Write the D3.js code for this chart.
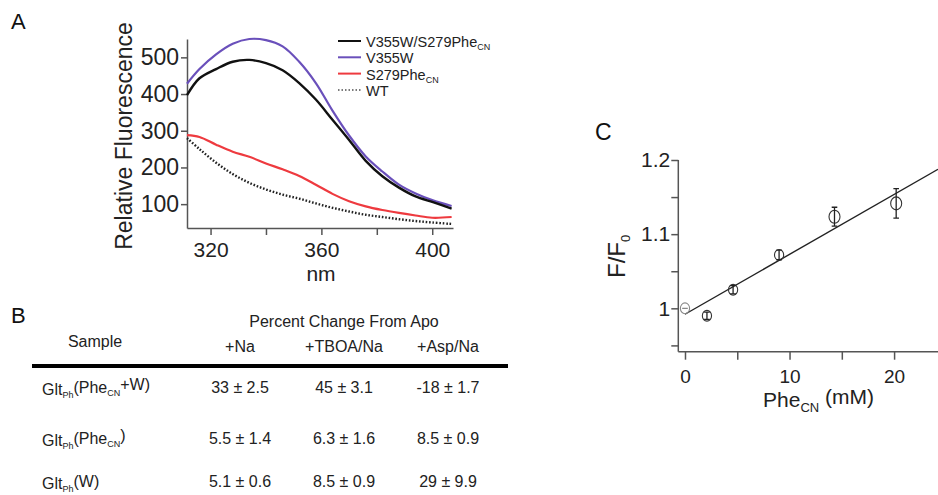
<!DOCTYPE html>
<html>
<head>
<meta charset="utf-8">
<script src="https://cdn.jsdelivr.net/npm/d3@7"></script>
<style>
  body { margin: 0; background: #fff; }
  svg { font-family: "Liberation Sans", Arial, Helvetica, sans-serif; display: block; }
</style>
</head>
<body>
<svg id="fig" width="938" height="495"></svg>
<script>
// ---- panel A : emission spectra ----
var wavelength = [311.5, 316, 322, 328, 334, 340, 346, 352, 358, 364, 370, 376, 382, 388, 394, 400, 407];
var dblMutant  = [397, 443, 468, 488, 493, 484, 465, 430, 385, 330, 275, 218, 176, 145, 121, 106, 88];
var v355w      = [428, 468, 508, 537, 550, 547, 530, 488, 430, 355, 287, 230, 189, 153, 129, 111, 95];
var s279phe    = [288, 283, 262, 243, 229, 211, 195, 177, 153, 128, 108, 94, 84, 76, 69, 63, 65];
var wt         = [280, 250, 213, 182, 158, 140, 126, 115, 102, 90, 80, 71, 65, 59, 54, 50, 46];
var specTicksX = [320, 340, 360, 380, 400];
var specLabelsX = [320, 360, 400];
var specTicksY = [100, 200, 300, 400, 500];

// ---- panel B : percent change table ----
var sampleNames = ["Phe_CN+W", "Phe_CN", "W"];   // inside Glt_Ph( ... )
var conditions = ["+Na", "+TBOA/Na", "+Asp/Na"];
var naMean = [33, 5.5, 5.1],   naSd = [2.5, 1.4, 0.6];
var tboaMean = [45, 6.3, 8.5], tboaSd = [3.1, 1.6, 0.9];
var aspMean = [-18, 8.5, 29],  aspSd = [1.7, 0.9, 9.9];

// ---- panel C : titration ----
var pheConc = [0, 2.1, 4.6, 9.0, 14.3, 20.2];
var fRatio  = [1.0, 0.990, 1.025, 1.072, 1.1235, 1.1415];
var fErr    = [0.0, 0.005, 0.0055, 0.0065, 0.0128, 0.020];
var fitX = [0, 24.2];
var fitY = [0.992, 1.1875];
var titTicksX = [0, 5, 10, 15, 20];
var titTicksY = [0.95, 1.0, 1.05, 1.1, 1.15, 1.2];

var svg = d3.select("#fig");
svg.append("rect").attr("width", 938).attr("height", 495).attr("fill", "#fff");

var axisColor = "#555";

// write label text with "_XX" subscripts as tspans
function subText(sel, str, subSize) {
  var parts = str.split(/(_[A-Za-z0-9]+)/);
  var lowered = false;
  parts.forEach(function(p) {
    if (p === "") return;
    if (p[0] === "_") {
      sel.append("tspan").attr("font-size", subSize).attr("dy", lowered ? 0 : "0.35em").text(p.slice(1));
      lowered = true;
    } else {
      var t = sel.append("tspan").text(p);
      if (lowered) { t.attr("dy", "-0.35em"); lowered = false; }
    }
  });
}

function styleAxis(g, fontSize) {
  g.select(".domain").attr("stroke", axisColor).attr("stroke-width", 1.5);
  g.selectAll(".tick line").attr("stroke", axisColor).attr("stroke-width", 1.5);
  g.selectAll(".tick text").attr("fill", "#222").attr("font-size", fontSize)
    .attr("font-family", "Liberation Sans, Arial, sans-serif");
}

// ================= panel A =================
var xA = d3.scaleLinear().domain([311.5, 407.5]).range([187, 453]);
var yA = d3.scaleLinear().domain([35, 550]).range([228, 39]);

var gxA = svg.append("g").attr("transform", "translate(0,228)")
  .call(d3.axisBottom(xA).tickValues(specTicksX).tickSize(7).tickSizeOuter(0).tickPadding(7)
    .tickFormat(function(d) { return specLabelsX.indexOf(d) >= 0 ? d : ""; }));
styleAxis(gxA, 21);

var gyA = svg.append("g").attr("transform", "translate(187,0)")
  .call(d3.axisLeft(yA).tickValues(specTicksY).tickSize(6).tickSizeOuter(0).tickPadding(2));
styleAxis(gyA, 23);

var specSeries = [
  { name: "V355W/S279Phe_CN", values: dblMutant, color: "#111", dash: null, width: 2.4 },
  { name: "V355W", values: v355w, color: "#6a50bb", dash: null, width: 2.2 },
  { name: "S279Phe_CN", values: s279phe, color: "#ee3a3f", dash: null, width: 2.2 },
  { name: "WT", values: wt, color: "#222", dash: "1.6,1.8", width: 2.4 }
];

var lineA = d3.line()
  .x(function(d) { return xA(d[0]); })
  .y(function(d) { return yA(d[1]); })
  .curve(d3.curveCatmullRom);

svg.append("g").selectAll("path")
  .data(specSeries.slice().reverse())
  .enter().append("path")
  .attr("d", function(s) { return lineA(wavelength.map(function(w, i) { return [w, s.values[i]]; })); })
  .attr("fill", "none")
  .attr("stroke", function(s) { return s.color; })
  .attr("stroke-width", function(s) { return s.width; })
  .attr("stroke-dasharray", function(s) { return s.dash; });

// legend
var leg = svg.append("g").selectAll("g")
  .data(specSeries).enter().append("g")
  .attr("transform", function(d, i) { return "translate(338," + (41 + i * 16.3) + ")"; });
leg.append("line").attr("x1", 0).attr("x2", 23)
  .attr("stroke", function(d) { return d.color; })
  .attr("stroke-width", 2)
  .attr("stroke-dasharray", function(d) { return d.dash ? "1.5,2" : null; })
  .attr("opacity", function(d) { return d.dash ? 0.6 : 1; });
leg.append("text").attr("x", 28).attr("y", 6).attr("font-size", 14.5).attr("fill", "#222")
  .each(function(d) { subText(d3.select(this), d.name, 9); });

svg.append("text").attr("transform", "translate(132,136) rotate(-90)")
  .attr("text-anchor", "middle").attr("font-size", 23).attr("fill", "#222")
  .text("Relative Fluorescence");
svg.append("text").attr("x", 321).attr("y", 281).attr("text-anchor", "middle")
  .attr("font-size", 21).attr("fill", "#222").text("nm");
svg.append("text").attr("x", 11).attr("y", 29).attr("font-size", 22).attr("fill", "#111").text("A");

// ================= panel B =================
svg.append("text").attr("x", 11).attr("y", 323).attr("font-size", 22).attr("fill", "#111").text("B");

var colX = d3.scalePoint().domain(conditions).range([240, 448]);
var rowY = d3.scaleOrdinal().domain(sampleNames).range([393, 444, 487]);

svg.append("text").attr("x", 344).attr("y", 327).attr("text-anchor", "middle")
  .attr("font-size", 16).attr("fill", "#222").text("Percent Change From Apo");
svg.append("text").attr("x", 95).attr("y", 347).attr("text-anchor", "middle")
  .attr("font-size", 16).attr("fill", "#222").text("Sample");
svg.append("g").selectAll("text").data(conditions).enter().append("text")
  .attr("x", function(d) { return colX(d); }).attr("y", 352)
  .attr("text-anchor", "middle").attr("font-size", 16).attr("fill", "#222")
  .text(function(d) { return d; });
svg.append("line").attr("x1", 32).attr("x2", 508).attr("y1", 366).attr("y2", 366)
  .attr("stroke", "#000").attr("stroke-width", 4);

svg.append("g").selectAll("text").data(sampleNames).enter().append("text")
  .attr("x", 42).attr("y", function(d) { return rowY(d) + 2; })
  .attr("font-size", 16).attr("fill", "#222")
  .each(function(d) { subText(d3.select(this), "Glt_Ph(" + d + ")", 9); });

var cellData = [];
sampleNames.forEach(function(s, i) {
  cellData.push({ row: s, col: conditions[0], m: naMean[i], sd: naSd[i] });
  cellData.push({ row: s, col: conditions[1], m: tboaMean[i], sd: tboaSd[i] });
  cellData.push({ row: s, col: conditions[2], m: aspMean[i], sd: aspSd[i] });
});
svg.append("g").selectAll("text").data(cellData).enter().append("text")
  .attr("x", function(d) { return colX(d.col); })
  .attr("y", function(d) { return rowY(d.row); })
  .attr("text-anchor", "middle").attr("font-size", 16).attr("fill", "#222")
  .text(function(d) { return d.m + " \u00b1 " + d.sd.toFixed(1); });

// ================= panel C =================
var xC = d3.scaleLinear().domain([-0.64, 24.2]).range([678.3, 938]);
var yC = d3.scaleLinear().domain([0.9415, 1.2]).range([351.7, 160]);

var gxC = svg.append("g").attr("transform", "translate(0,351.7)")
  .call(d3.axisBottom(xC).tickValues(titTicksX).tickSize(8).tickSizeOuter(0).tickPadding(10)
    .tickFormat(function(d) { return d % 10 === 0 ? d : ""; }));
styleAxis(gxC, 19);
gxC.select(".domain").attr("d", "M678.3,0H938");

var gyC = svg.append("g").attr("transform", "translate(678.3,0)")
  .call(d3.axisLeft(yC).tickValues(titTicksY).tickSize(7).tickSizeOuter(0).tickPadding(1)
    .tickFormat(function(d) { return Math.round(d * 100) % 10 === 0 ? d3.format("")(+d.toFixed(1)) : ""; }));
styleAxis(gyC, 21);
gyC.select(".domain").attr("d", "M0,351.7V160");

svg.append("line")
  .attr("x1", xC(fitX[0])).attr("y1", yC(fitY[0]))
  .attr("x2", xC(fitX[1])).attr("y2", yC(fitY[1]))
  .attr("stroke", "#222").attr("stroke-width", 1.4);

var pts = pheConc.map(function(c, i) { return { x: c, y: fRatio[i], e: fErr[i], i: i }; });
var ptG = svg.append("g").selectAll("g").data(pts).enter().append("g");
ptG.append("ellipse")
  .attr("cx", function(d) { return xC(d.x); })
  .attr("cy", function(d) { return yC(d.y); })
  .attr("rx", function(d) { return d.i >= 4 ? 5.5 : 4.6; })
  .attr("ry", function(d) { return d.i >= 4 ? 6.5 : 5.4; })
  .attr("fill", "none")
  .attr("stroke", function(d) { return d.i === 0 ? "#888" : "#333"; })
  .attr("stroke-width", 1.1);
ptG.append("path")
  .attr("d", function(d) {
    var x = xC(d.x), y1 = yC(d.y + d.e), y2 = yC(d.y - d.e), c = 2.8;
    return "M" + (x - c) + "," + y1 + "H" + (x + c) + "M" + x + "," + y1 + "V" + y2 +
      "M" + (x - c) + "," + y2 + "H" + (x + c);
  })
  .attr("fill", "none")
  .attr("stroke", function(d) { return d.i === 0 ? "#888" : "#222"; })
  .attr("stroke-width", 1.3);

svg.append("text").attr("x", 595).attr("y", 140).attr("font-size", 23).attr("fill", "#111").text("C");

var fT = svg.append("text").attr("transform", "translate(625,278) rotate(-90)")
  .attr("font-size", 24).attr("fill", "#222");
fT.append("tspan").text("F/F");
fT.append("tspan").attr("font-size", 13).attr("dy", "0.4em").text("0");

var xT = svg.append("text").attr("x", 763).attr("y", 407).attr("font-size", 21).attr("fill", "#222");
subText(xT, "Phe_CN (mM)", 13);
</script>
</body>
</html>
